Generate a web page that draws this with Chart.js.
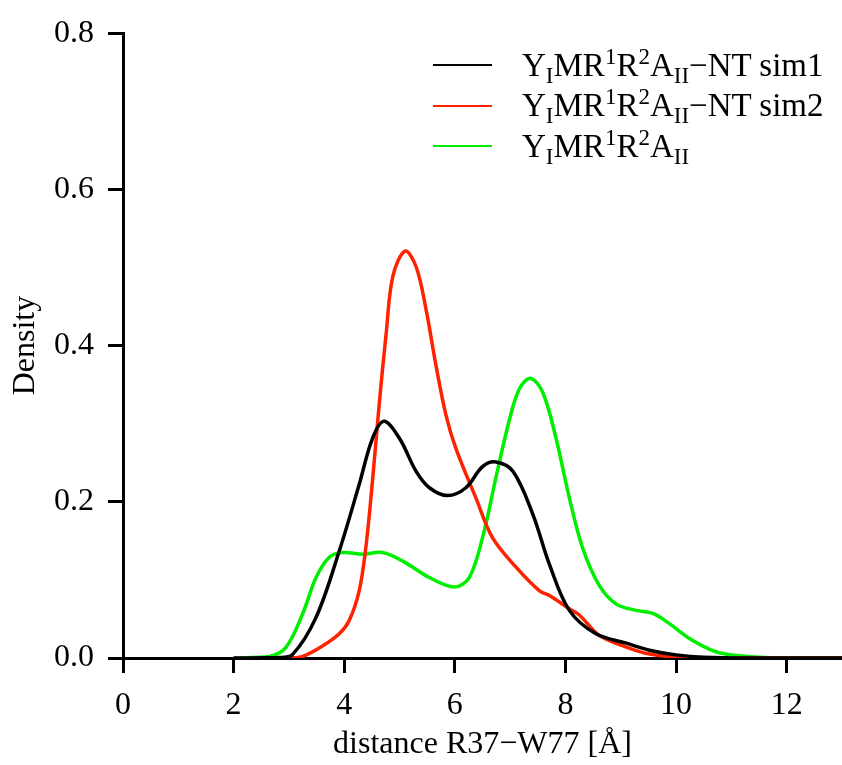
<!DOCTYPE html>
<html>
<head>
<meta charset="utf-8">
<script src="https://cdn.jsdelivr.net/npm/chart.js@4.4.1/dist/chart.umd.min.js"></script>
<style>
  body { margin: 0; background: #fff; }
  #wrap { position: relative; width: 842px; height: 765px; }
  #legend {
    position: absolute; left: 433px; top: 45px;
    font-family: "Liberation Serif", "Times New Roman", serif;
    font-size: 33px; color: #000;
  }
  .item { height: 40.5px; display: flex; align-items: center; white-space: nowrap; }
  .swatch { width: 59px; height: 0; border-top: 2px solid; margin-right: 30px; }
  .item sub, .item sup { font-size: 23px; line-height: 0; }
  .item sub { vertical-align: -7px; }
  .item sup { vertical-align: 12px; }
</style>
</head>
<body>
<div id="wrap">
  <canvas id="chart" width="842" height="765"></canvas>
  <div id="legend">
    <div class="item"><span class="swatch" style="border-color:#000000"></span><span>Y<sub>I</sub>MR<sup>1</sup>R<sup>2</sup>A<sub>II</sub>−NT sim1</span></div>
    <div class="item"><span class="swatch" style="border-color:#ff2200"></span><span>Y<sub>I</sub>MR<sup>1</sup>R<sup>2</sup>A<sub>II</sub>−NT sim2</span></div>
    <div class="item"><span class="swatch" style="border-color:#00ee00"></span><span>Y<sub>I</sub>MR<sup>1</sup>R<sup>2</sup>A<sub>II</sub></span></div>
  </div>
</div>
<script>
// Data
const sim1X = [2.0, 2.8, 3.06, 3.49, 3.91, 4.27, 4.51, 4.72, 5.0, 5.3, 5.54, 5.87, 6.2, 6.5, 6.74, 7.05, 7.41, 7.71, 8.07, 8.55, 9.1, 9.52, 10.0, 10.5, 11.5, 13];
const sim1Y = [0, 0.0005, 0.004, 0.052, 0.137, 0.222, 0.281, 0.303, 0.281, 0.239, 0.218, 0.208, 0.218, 0.245, 0.251, 0.239, 0.184, 0.12, 0.061, 0.031, 0.019, 0.01, 0.004, 0.001, 0, 0];

const sim2X = [2.5, 3.0, 3.25, 3.6, 3.91, 4.09, 4.27, 4.39, 4.51, 4.63, 4.76, 4.88, 5.1, 5.3, 5.48, 5.66, 5.84, 6.02, 6.38, 6.68, 7.11, 7.53, 7.71, 8.07, 8.25, 8.61, 9.1, 9.52, 10.1, 11.0, 13];
const sim2Y = [0, 0, 0.002, 0.015, 0.031, 0.048, 0.086, 0.141, 0.226, 0.323, 0.417, 0.489, 0.521, 0.501, 0.446, 0.374, 0.311, 0.268, 0.205, 0.154, 0.116, 0.086, 0.08, 0.063, 0.055, 0.029, 0.014, 0.005, 0.001, 0, 0];

const wtX = [2.0, 2.65, 2.95, 3.25, 3.49, 3.73, 3.97, 4.33, 4.69, 5.06, 5.54, 5.99, 6.26, 6.5, 6.74, 6.99, 7.17, 7.37, 7.59, 7.83, 8.07, 8.31, 8.61, 8.92, 9.28, 9.58, 9.88, 10.24, 10.72, 11.2, 11.9, 13];
const wtY = [0, 0.002, 0.014, 0.057, 0.103, 0.129, 0.135, 0.133, 0.135, 0.124, 0.103, 0.091, 0.103, 0.154, 0.23, 0.306, 0.345, 0.358, 0.34, 0.281, 0.205, 0.141, 0.093, 0.069, 0.061, 0.057, 0.044, 0.025, 0.008, 0.0025, 0, 0];

const xTicks = [0, 2, 4, 6, 8, 10, 12];
const yTicks = [0.0, 0.2, 0.4, 0.6, 0.8];

const serif = "'Liberation Serif', 'Times New Roman', serif";
const toPoints = (xs, ys) => xs.map((x, i) => ({ x: x, y: ys[i] }));

function line(label, xs, ys, color) {
  return {
    label: label,
    data: toPoints(xs, ys),
    borderColor: color,
    borderWidth: 3.5,
    pointRadius: 0,
    fill: false,
    tension: 0.35,
  };
}

const axisCommon = {
  border: { color: "#000", width: 3 },
  grid: { drawOnChartArea: false, drawTicks: true, tickLength: 15, tickColor: "#000", tickWidth: 3 },
};

new Chart(document.getElementById("chart"), {
  type: "line",
  data: {
    datasets: [
      line("sim1", sim1X, sim1Y, "#000000"),
      line("sim2", sim2X, sim2Y, "#ff2200"),
      line("wt", wtX, wtY, "#00ee00"),
    ],
  },
  options: {
    responsive: false,
    animation: false,
    devicePixelRatio: 1,
    layout: { padding: { top: 28, right: 0, left: 0, bottom: 0 } },
    plugins: { legend: { display: false }, tooltip: { enabled: false } },
    scales: {
      x: {
        ...axisCommon,
        type: "linear",
        min: 0,
        max: 13,
        afterBuildTicks: (s) => { s.ticks = xTicks.map((v) => ({ value: v })); },
        afterFit: (s) => { s.height = 107; s.paddingLeft = 0; s.paddingRight = 0; },
        ticks: { color: "#000", padding: 13, font: { family: serif, size: 32 } },
        title: {
          display: true,
          text: "distance R37−W77 [Å]",
          color: "#000",
          font: { family: serif, size: 32 },
          padding: { top: 0, bottom: 1 },
        },
      },
      y: {
        ...axisCommon,
        min: 0,
        max: 0.8,
        afterBuildTicks: (s) => { s.ticks = yTicks.map((v) => ({ value: v })); },
        afterFit: (s) => { s.width = 123; },
        ticks: {
          color: "#000",
          padding: 14,
          font: { family: serif, size: 32 },
          callback: (v) => Number(v).toFixed(1),
        },
        title: {
          display: true,
          text: "Density",
          color: "#000",
          font: { family: serif, size: 32 },
          padding: { top: 6, bottom: 0 },
        },
      },
    },
  },
});
</script>
</body>
</html>
